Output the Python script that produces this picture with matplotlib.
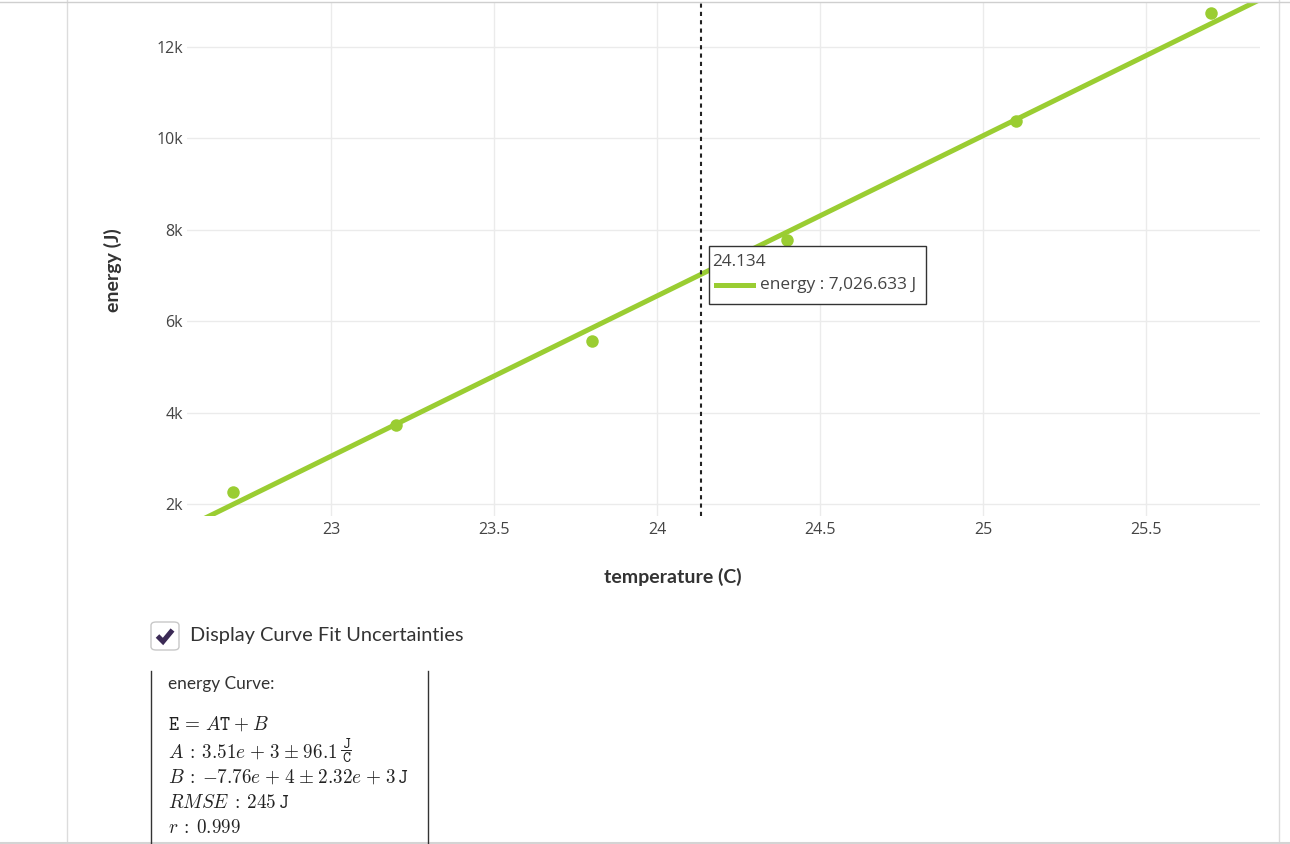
import numpy as np
import matplotlib
matplotlib.use("Agg")
import matplotlib.pyplot as plt
from matplotlib.patches import Rectangle, FancyBboxPatch
from matplotlib.lines import Line2D

# ---- data ----
temperature = [22.7, 23.2, 23.8, 24.4, 25.1, 25.7]
energy = [2269, 3731, 5563, 7782, 10386, 12736]
x_ticks = [23, 23.5, 24, 24.5, 25, 25.5]
x_tick_labels = ["23", "23.5", "24", "24.5", "25", "25.5"]
y_ticks = [2000, 4000, 6000, 8000, 10000, 12000]
y_tick_labels = ["2k", "4k", "6k", "8k", "10k", "12k"]
hover_x = 24.134
hover_label = "24.134"
hover_value_text = "energy : 7,026.633 J"
fit_lines = [
    r"$\mathtt{E}\,=\,A\mathtt{T}\:{+}\:B$",
    r"$A\:{:}\:3.51e\;{+}\;3\;{\pm}\;96.1$",
    r"$B\:{:}\:{-}7.76e\;{+}\;4\;{\pm}\;2.32e\;{+}\;3\,\mathtt{J}$",
    r"$RMSE\:{:}\:245\,\mathtt{J}$",
    r"$r\:{:}\:0.999$",
]
unit_num = r"$\mathtt{J}$"
unit_den = r"$\mathtt{C}$"

GREEN = "#9acd32"
W, H = 1290, 844
plt.rcParams["mathtext.fontset"] = "cm"

fig = plt.figure(figsize=(W / 100, H / 100), dpi=100)
fig.patch.set_facecolor("white")


def fx(px):
    return px / W


def fy(py):
    return 1 - py / H


# axes
left, right, top, bottom = 187, 1260, 3, 516
ax = fig.add_axes([fx(left), fy(bottom), fx(right - left), fy(top) - fy(bottom)])
ax.set_xlim(22.558, 25.85)
ax.set_ylim(1737, 12963)
for s in ax.spines.values():
    s.set_visible(False)
ax.set_xticks(x_ticks)
ax.set_xticklabels(x_tick_labels)
ax.set_yticks(y_ticks)
ax.set_yticklabels(y_tick_labels)
ax.tick_params(axis="both", length=0, labelsize=11.5, labelcolor="#444")
ax.tick_params(axis="y", pad=3)
ax.tick_params(axis="x", pad=4)
for lab in ax.get_xticklabels() + ax.get_yticklabels():
    lab.set_fontfamily("Open Sans")
ax.grid(True, color="#ebebeb", linewidth=1)
ax.set_axisbelow(True)

# fit line
slope, intercept = np.polyfit(temperature, energy, 1)
xs = np.array([22.3, 26.2])
ax.plot(xs, slope * xs + intercept, color=GREEN, lw=3.6, solid_capstyle="butt", zorder=3)
ax.plot(temperature, energy, "o", color=GREEN, markersize=9, markeredgewidth=0, zorder=4)

# hover line
ax.axvline(hover_x, color="#222", lw=1.5, linestyle=(0, (2, 2)), zorder=5)

# tooltip
tip = Rectangle((fx(709), fy(304)), fx(926 - 709), fy(246) - fy(304), transform=fig.transFigure,
                facecolor="white", edgecolor="#333", lw=1, zorder=10)
fig.patches.append(tip)
fig.text(fx(712), fy(262), hover_label, fontsize=12.3, color="#444", family="Open Sans",
         va="center", ha="left", zorder=11)
fig.lines.append(Line2D([fx(716), fx(753)], [fy(285), fy(285)], transform=fig.transFigure,
                        color=GREEN, lw=3.6, zorder=11))
fig.text(fx(760), fy(285), hover_value_text, fontsize=12.4, color="#444", family="Open Sans",
         va="center", ha="left", zorder=11)

# axis titles
fig.text(fx(113), fy(270), "energy (J)", rotation=90, fontsize=14, fontweight="bold",
         family="Lato", color="#333", ha="center", va="center")
fig.text(fx(673), fy(577), "temperature (C)", fontsize=14, fontweight="bold",
         family="Lato", color="#333", ha="center", va="center")

# page borders
fig.lines.append(Line2D([fx(67), fx(67)], [0, 1], transform=fig.transFigure, color="#dcdcdc", lw=1))
fig.lines.append(Line2D([fx(1279), fx(1279)], [0, 1], transform=fig.transFigure, color="#dcdcdc", lw=1))
fig.lines.append(Line2D([0, 1], [fy(2), fy(2)], transform=fig.transFigure, color="#cfcfcf", lw=1))
fig.lines.append(Line2D([0, 1], [fy(842.5), fy(842.5)], transform=fig.transFigure, color="#d4d4d4", lw=2.2))

# checkbox
cb = FancyBboxPatch((fx(151), fy(650)), fx(28), fy(622) - fy(650),
                    boxstyle="round,pad=0,rounding_size=0.004", transform=fig.transFigure,
                    facecolor="white", edgecolor="#c8c8c8", lw=1)
fig.patches.append(cb)
fig.lines.append(Line2D([fx(157.5), fx(163), fx(172.5)], [fy(636), fy(641.5), fy(630)],
                        transform=fig.transFigure, color="#3b2a55", lw=3.6,
                        solid_joinstyle="miter", solid_capstyle="butt"))
fig.text(fx(190), fy(636), "Display Curve Fit Uncertainties", fontsize=14.4, family="Lato",
         color="#333", ha="left", va="center")

# fit box
fig.lines.append(Line2D([fx(151), fx(151)], [fy(671), 0], transform=fig.transFigure, color="#333", lw=1))
fig.lines.append(Line2D([fx(428), fx(428)], [fy(671), 0], transform=fig.transFigure, color="#333", lw=1))
fig.text(fx(168), fy(684), "energy Curve:", fontsize=12.4, family="Lato", color="#333",
         ha="left", va="center")
baselines = [730, 758, 783, 808, 833]
texts = []
for t, yy in zip(fit_lines, baselines):
    texts.append(fig.text(fx(168), fy(yy), t, fontsize=13.8, color="#222", ha="left",
                          va="baseline"))

# unit fraction J/C after line 2
fig.canvas.draw()
r = fig.canvas.get_renderer()
bb = texts[1].get_window_extent(renderer=r)
xf = bb.x1 + 9  # center of fraction, in pixels from left
fig.text(fx(xf), fy(743), unit_num, fontsize=11, color="#222", ha="center", va="center")
fig.text(fx(xf), fy(757), unit_den, fontsize=11, color="#222", ha="center", va="center")
fig.lines.append(Line2D([fx(xf - 5), fx(xf + 5)], [fy(750), fy(750)], transform=fig.transFigure,
                        color="#222", lw=0.7))

fig.savefig("out.png", dpi=100, facecolor="white")
